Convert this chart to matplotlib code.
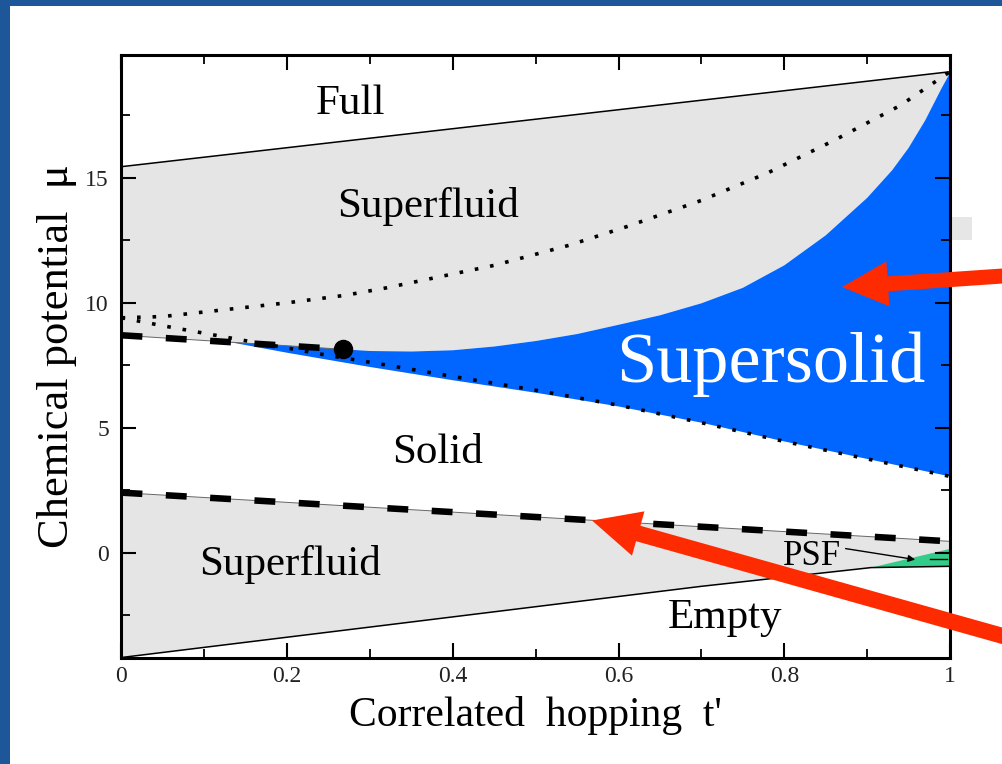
import matplotlib
matplotlib.use("Agg")
import matplotlib.pyplot as plt
import matplotlib.patches as mpatches
from matplotlib.transforms import Affine2D
import numpy as np

plt.rcParams["font.family"] = ["Liberation Serif", "DejaVu Serif"]

# Phase boundaries, t' on x, mu on y
t_full = [0.0, 1.0]
mu_full = [15.45, 19.25]

t_empty = [0.0, 0.32, 0.7, 0.905, 1.0]
mu_empty = [-4.2, -2.9, -1.35, -0.6, -0.55]

# first-order line between superfluid and solid (upper lobe)
t_dash_up = [0.0, 0.267]
mu_dash_up = [8.7, 8.14]

# lower superfluid / solid transition
t_dash_low = [0.0, 1.0]
mu_dash_low = [2.4, 0.45]

# supersolid / superfluid boundary (starts at the end point of the dashed line)
t_ss_top = [0.267, 0.3, 0.35, 0.4, 0.45, 0.5, 0.55, 0.6, 0.65, 0.7, 0.75, 0.8,
            0.85, 0.9, 0.93, 0.95, 0.97, 0.99, 1.0]
mu_ss_top = [8.14, 8.07, 8.05, 8.1, 8.25, 8.47, 8.75, 9.12, 9.5, 9.98, 10.6, 11.5,
             12.7, 14.2, 15.3, 16.2, 17.3, 18.6, 19.2]

# supersolid / solid boundary
t_ss_low = [0.13, 0.2, 0.3, 0.4, 0.5, 0.6, 0.7, 0.8, 0.9, 1.0]
mu_ss_low = [8.43, 8.0, 7.43, 6.9, 6.4, 5.85, 5.2, 4.45, 3.75, 3.05]

# dotted curves
t_dot_up = [0.0, 0.05, 0.2, 0.27, 0.32, 0.45, 0.54, 0.61, 0.7, 0.78, 0.86, 0.94, 0.98, 1.0]
mu_dot_up = [9.4, 9.45, 10.0, 10.3, 10.6, 11.5, 12.3, 13.05, 14.1, 15.2, 16.5, 17.9, 18.8, 19.25]
t_dot_low = [0.0, 0.05, 0.1, 0.15, 0.2, 0.25, 0.3, 0.4, 0.5, 0.6, 0.7, 0.8, 0.9, 1.0]
mu_dot_low = [9.4, 9.08, 8.78, 8.48, 8.19, 7.89, 7.62, 7.05, 6.5, 5.9, 5.2, 4.45, 3.75, 3.05]

# pair superfluid pocket
t_psf = [0.905, 1.0, 1.0]
mu_psf = [-0.6, -0.55, 0.15]

# tricritical point
t_crit = [0.267]
mu_crit = [8.14]

x_ticks = [0, 0.2, 0.4, 0.6, 0.8, 1.0]
x_ticklabels = ["0", "0.2", "0.4", "0.6", "0.8", "1"]
y_ticks = [0, 5, 10, 15]
y_ticklabels = ["0", "5", "10", "15"]

W, H = 1003, 764
fig = plt.figure(figsize=(W / 100, H / 100), dpi=100)
fig.patch.set_facecolor("#1e5799")
px = Affine2D().scale(1 / 100) + fig.dpi_scale_trans  # pixel units, origin bottom-left

# white slide panel
fig.add_artist(mpatches.Rectangle((10, 0), W - 10, H - 6, transform=px,
                                  facecolor="white", edgecolor="none", zorder=-10))
fig.add_artist(mpatches.Rectangle((950, H - 240), 22, 23, transform=px,
                                  facecolor="#e6e6e6", edgecolor="none", zorder=-9))

ax = fig.add_axes([121.5 / W, (H - 658) / H, 828.5 / W, 603 / H])
ax.set_xlim(0, 1)
ax.set_ylim(-4.22, 19.92)

grey = "#e5e5e5"
blue = "#0066ff"
green = "#33cc88"

# upper superfluid
ax.fill(np.concatenate([t_full, t_ss_top[::-1], t_dash_up[::-1]]),
        np.concatenate([mu_full, mu_ss_top[::-1], mu_dash_up[::-1]]),
        color=grey, lw=0, zorder=1)
# supersolid
ax.fill(np.concatenate([t_ss_low, t_ss_top[::-1]]),
        np.concatenate([mu_ss_low, mu_ss_top[::-1]]),
        color=blue, lw=0, zorder=1)
# lower superfluid
ax.fill(np.concatenate([t_dash_low, t_empty[::-1]]),
        np.concatenate([mu_dash_low, mu_empty[::-1]]),
        color=grey, lw=0, zorder=1)
ax.fill(t_psf, mu_psf, color=green, lw=0, zorder=1.2)

ax.plot(t_full, mu_full, color="black", lw=1.1, zorder=2)
ax.plot(t_empty, mu_empty, color="black", lw=1.1, zorder=2)
ax.plot([0.976, 0.996], [-0.24, -0.24], color="black", lw=1.0, zorder=2)

for tt, mm in [(t_dash_up, mu_dash_up), (t_dash_low, mu_dash_low)]:
    ax.plot(tt, mm, color="#666666", lw=0.7, zorder=2)
    ax.plot(tt, mm, color="black", lw=4.7, linestyle=(0, (3.2, 3.6)),
            dash_capstyle="butt", zorder=2.1)

for tt, mm in [(t_dot_up, mu_dot_up), (t_dot_low, mu_dot_low)]:
    ax.plot(tt, mm, color="black", lw=2.6, linestyle=(0, (1, 3.3)),
            dash_capstyle="butt", zorder=2.2)

ax.plot(t_crit, mu_crit, "o", color="black", markersize=13, zorder=3)

# region labels
lab = dict(fontsize=31, ha="center", va="baseline", zorder=4)
ax.text(0.276, 17.54, "Full", **lab)
ax.text(0.37, 13.44, "Superfluid", **lab)
ax.text(0.381, 3.6, "Solid", **lab)
ax.text(0.203, -0.88, "Superfluid", **lab)
ax.text(0.728, -3.03, "Empty", **lab)
ax.text(0.784, 6.84, "Supersolid", fontsize=52, color="white",
        ha="center", va="baseline", zorder=4)
ax.text(0.833, -0.48, "PSF", fontsize=25, ha="center", va="baseline", zorder=4)
ax.annotate("", xy=(0.958, -0.28), xytext=(0.874, 0.16),
            arrowprops=dict(arrowstyle="-|>", color="black", lw=1.0,
                            mutation_scale=10, shrinkA=0, shrinkB=0), zorder=4)

ax.set_xticks(x_ticks)
ax.set_xticklabels(x_ticklabels)
ax.set_yticks(y_ticks)
ax.set_yticklabels(y_ticklabels)
ax.set_xticks([0.1, 0.3, 0.5, 0.7, 0.9], minor=True)
ax.set_yticks([-2.5, 2.5, 7.5, 12.5, 17.5], minor=True)
ax.tick_params(which="both", direction="in", top=True, right=True,
               labelsize=17, labelcolor="#222222", color="black")
ax.tick_params(which="major", length=11, width=1.5, pad=6)
ax.tick_params(which="minor", length=6.5, width=1.3)
ax.tick_params(axis="y", which="major", pad=9)
for s in ax.spines.values():
    s.set_linewidth(2.2)
    s.set_zorder(5)

ax.set_xlabel("Correlated  hopping  t'", fontsize=30, labelpad=6)
ax.set_ylabel("Chemical potential  \u03bc", fontsize=32, labelpad=6)

# red pointers on the slide
red = "#ff2b00"
fig.add_artist(mpatches.FancyArrow(1010, H - 275.5, -168, -11.5, width=15,
                                   head_width=45, head_length=46,
                                   length_includes_head=True, transform=px,
                                   color=red, lw=0, zorder=6))
fig.add_artist(mpatches.FancyArrow(1010, H - 638, -418, 117.5, width=16,
                                   head_width=46, head_length=48,
                                   length_includes_head=True, transform=px,
                                   color=red, lw=0, zorder=6))

fig.savefig("out.png", dpi=100, facecolor=fig.get_facecolor())
